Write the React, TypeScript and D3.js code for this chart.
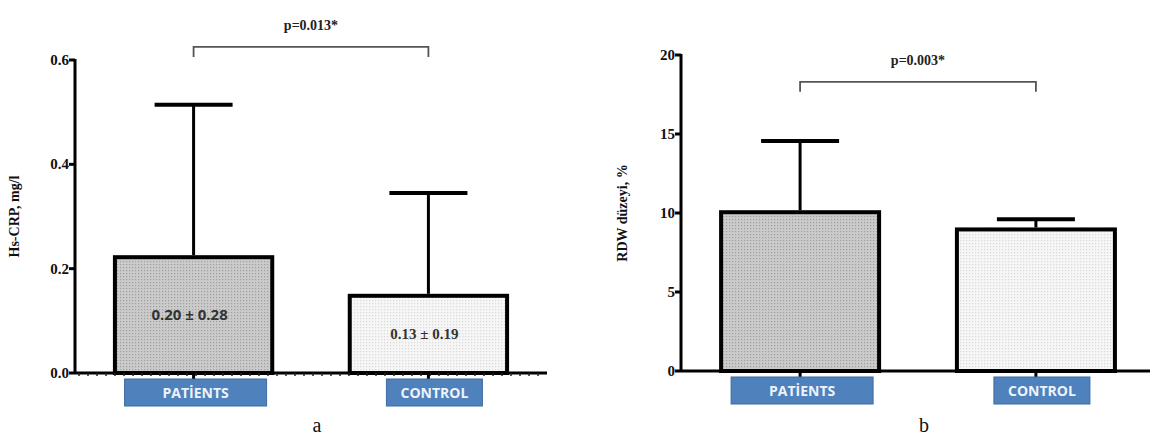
import * as d3 from "d3";

const groups = ["PATİENTS", "CONTROL"];

const crpMean = [0.222, 0.148];
const crpSd = [0.292, 0.197];
const crpNotes = ["0.20 ± 0.28", "0.13 ± 0.19"];
const crpTicks = [0, 0.2, 0.4, 0.6];

const rdwMean = [10.05, 8.96];
const rdwSd = [4.5, 0.64];
const rdwTicks = [0, 5, 10, 15, 20];

const serif = "'Liberation Serif', 'DejaVu Serif', serif";
const sans = "'Open Sans', 'Liberation Sans', sans-serif";

type PanelProps = {
  axisX: number;
  bandEnd: number;
  lineEnd: number;
  yBottom: number;
  yTop: number;
  yMax: number;
  ticks: number[];
  fmt: (v: number) => string;
  means: number[];
  sds: number[];
  notes?: string[];
  yLabel: string;
  yLabelX: number;
  bracketAt: number;
  pText: string;
  letter: string;
  dotted: boolean;
};

function Panel(p: PanelProps) {
  const x = d3
    .scaleBand()
    .domain(groups)
    .range([p.axisX, p.bandEnd])
    .paddingInner(0.33)
    .paddingOuter(0.17);
  const y = d3.scaleLinear().domain([0, p.yMax]).range([p.yBottom, p.yTop]);
  const bw = x.bandwidth();
  const cx = (g: string) => (x(g) as number) + bw / 2;
  const by = y(p.bracketAt);
  const mid = (cx(groups[0]) + cx(groups[1])) / 2;
  const boxW = [142, 96];
  const dashes = d3.range(p.axisX + 4, p.lineEnd, 9);

  return (
    <g>
      {/* bars */}
      {groups.map((g, i) => (
        <rect
          key={g}
          x={x(g)}
          y={y(p.means[i])}
          width={bw}
          height={p.yBottom - y(p.means[i])}
          fill={`url(#${i === 0 ? "darkDots" : "lightDots"})`}
          stroke="#000"
          strokeWidth={4}
        />
      ))}
      {/* error bars */}
      {groups.map((g, i) => {
        const top = y(p.means[i] + p.sds[i]);
        return (
          <g key={g + "err"} stroke="#000">
            <line x1={cx(g)} x2={cx(g)} y1={y(p.means[i]) - 2} y2={top} strokeWidth={3} />
            <line x1={cx(g) - 39} x2={cx(g) + 39} y1={top} y2={top} strokeWidth={4} />
          </g>
        );
      })}
      {p.notes &&
        groups.map((g, i) => (
          <text
            key={g + "note"}
            x={cx(g) - 4}
            y={y(p.means[i] / 2) + 5}
            textAnchor="middle"
            fontFamily={i === 0 ? sans : serif}
            fontWeight="bold"
            fontSize={15}
            fill="#333"
          >
            {p.notes[i]}
          </text>
        ))}
      {/* y axis */}
      <line x1={p.axisX} x2={p.axisX} y1={p.yTop - 1} y2={p.yBottom + 1} stroke="#000" strokeWidth={3} />
      {p.ticks.map((t) => (
        <g key={t}>
          <line x1={p.axisX - 6} x2={p.axisX} y1={y(t)} y2={y(t)} stroke="#000" strokeWidth={3} />
          <text
            x={p.axisX - 6}
            y={y(t) + 5}
            textAnchor="end"
            fontFamily={serif}
            fontWeight="bold"
            fontSize={15}
            fill="#111"
          >
            {p.fmt(t)}
          </text>
        </g>
      ))}
      <text
        transform={`translate(${p.yLabelX},${(p.yTop + p.yBottom) / 2}) rotate(-90)`}
        textAnchor="middle"
        fontFamily={serif}
        fontWeight="bold"
        fontSize={14}
        fill="#111"
      >
        {p.yLabel}
      </text>
      {/* x axis */}
      <line x1={p.axisX} x2={p.lineEnd} y1={p.yBottom} y2={p.yBottom} stroke="#000" strokeWidth={3} />
      {p.dotted &&
        dashes.map((d) => (
          <line key={d} x1={d} x2={d} y1={p.yBottom} y2={p.yBottom + 3} stroke="#222" strokeWidth={1.5} />
        ))}
      {groups.map((g, i) => (
        <g key={g + "lab"}>
          <line x1={cx(g)} x2={cx(g)} y1={p.yBottom} y2={p.yBottom + 6} stroke="#000" strokeWidth={3} />
          <rect
            x={cx(g) + (i === 0 ? 2 : 6) - boxW[i] / 2}
            y={p.yBottom + 6}
            width={boxW[i]}
            height={27}
            fill="#4f81bd"
            stroke="#3d6ba3"
            strokeWidth={1}
          />
          <text
            x={cx(g) + (i === 0 ? 2 : 6)}
            y={p.yBottom + 25}
            textAnchor="middle"
            fontFamily={sans}
            fontWeight="bold"
            fontSize={14}
            fill="#eef3fb"
          >
            {g}
          </text>
        </g>
      ))}
      {/* significance bracket */}
      <path
        d={`M${cx(groups[0])},${by + 10}V${by}H${cx(groups[1])}V${by + 10}`}
        fill="none"
        stroke="#555"
        strokeWidth={1.8}
      />
      <text
        x={mid}
        y={by - 17}
        textAnchor="middle"
        fontFamily={serif}
        fontWeight="bold"
        fontSize={14}
        fill="#222"
      >
        {p.pText}
      </text>
      <text x={mid + 6} y={432} textAnchor="middle" fontFamily={serif} fontSize={20} fill="#111">
        {p.letter}
      </text>
    </g>
  );
}

export default function App() {
  return (
    <svg
      width={1150}
      height={440}
      style={{ position: "absolute", left: 0, top: 0, background: "#fff" }}
    >
      <defs>
        <pattern id="darkDots" width={3} height={3} patternUnits="userSpaceOnUse">
          <rect width={3} height={3} fill="#cbcbcb" />
          <rect width={1.2} height={1.2} fill="#9e9e9e" />
        </pattern>
        <pattern id="lightDots" width={3} height={3} patternUnits="userSpaceOnUse">
          <rect width={3} height={3} fill="#f6f6f6" />
          <rect width={1.2} height={1.2} fill="#dadada" />
        </pattern>
      </defs>
      <Panel
        axisX={75}
        bandEnd={547}
        lineEnd={547}
        yBottom={373}
        yTop={60}
        yMax={0.6}
        ticks={crpTicks}
        fmt={d3.format(".1f")}
        means={crpMean}
        sds={crpSd}
        notes={crpNotes}
        yLabel="Hs-CRP, mg/l"
        yLabelX={19}
        bracketAt={0.625}
        pText="p=0.013*"
        letter="a"
        dotted={true}
      />
      <Panel
        axisX={681}
        bandEnd={1155}
        lineEnd={1150}
        yBottom={371}
        yTop={55}
        yMax={20}
        ticks={rdwTicks}
        fmt={d3.format("d")}
        means={rdwMean}
        sds={rdwSd}
        yLabel="RDW düzeyi, %"
        yLabelX={627}
        bracketAt={18.3}
        pText="p=0.003*"
        letter="b"
        dotted={false}
      />
    </svg>
  );
}
